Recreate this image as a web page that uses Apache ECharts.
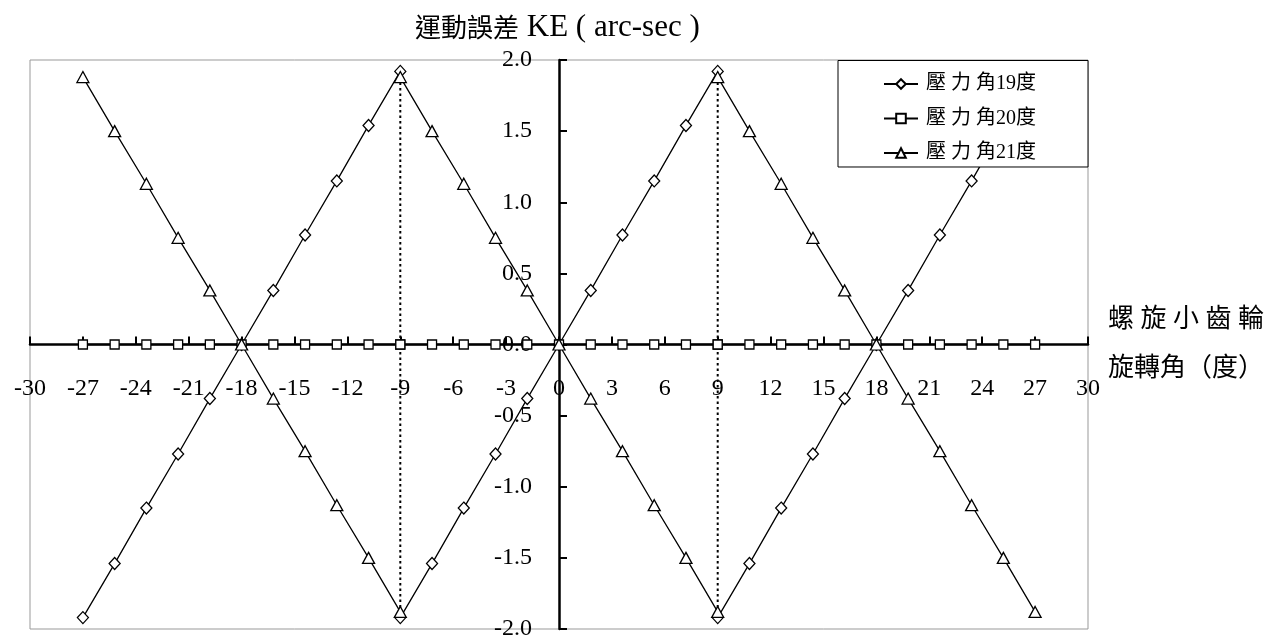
<!DOCTYPE html>
<html>
<head>
<meta charset="utf-8">
<script src="https://cdn.jsdelivr.net/npm/echarts@6/dist/echarts.min.js"></script>
<style>
  html, body { margin: 0; padding: 0; background: #fff; }
  #chart { width: 1282px; height: 641px; }
</style>
</head>
<body>
<div id="chart"></div>
<script>
// Pinion rotation angle (deg); ±9 appear twice where the error jumps
const angles = [-27, -25.2, -23.4, -21.6, -19.8, -18, -16.2, -14.4, -12.6, -10.8, -9,
                -9, -7.2, -5.4, -3.6, -1.8, 0, 1.8, 3.6, 5.4, 7.2, 9,
                9, 10.8, 12.6, 14.4, 16.2, 18, 19.8, 21.6, 23.4, 25.2, 27];

// Kinematic error (arc-sec) per pressure angle
const ke19 = [-1.92, -1.54, -1.15, -0.77, -0.38, 0, 0.38, 0.77, 1.15, 1.54, 1.92,
              -1.92, -1.54, -1.15, -0.77, -0.38, 0, 0.38, 0.77, 1.15, 1.54, 1.92,
              -1.92, -1.54, -1.15, -0.77, -0.38, 0, 0.38, 0.77, 1.15, 1.54, 1.92];
const ke20 = [0, 0, 0, 0, 0, 0, 0, 0, 0, 0, 0,
              0, 0, 0, 0, 0, 0, 0, 0, 0, 0, 0,
              0, 0, 0, 0, 0, 0, 0, 0, 0, 0, 0];
const ke21 = [1.88, 1.50, 1.13, 0.75, 0.38, 0, -0.38, -0.75, -1.13, -1.50, -1.88,
              1.88, 1.50, 1.13, 0.75, 0.38, 0, -0.38, -0.75, -1.13, -1.50, -1.88,
              1.88, 1.50, 1.13, 0.75, 0.38, 0, -0.38, -0.75, -1.13, -1.50, -1.88];

// Jump positions, drawn as dotted verticals
const jumpAngles = [-9, 9];
const jumpTop = 1.92;
const jumpBottom = -1.92;

const seriesNames = ['壓 力 角19度', '壓 力 角20度', '壓 力 角21度'];
const xTitle = '螺 旋 小 齒 輪\n旋轉角（度）';
const yTitleCjk = '運動誤差';
const yTitleLatin = ' KE ( arc-sec )';

// Axis ranges
const xMin = -30, xMax = 30, xStep = 3;
const yMin = -2, yMax = 2, yStep = 0.5;

// Pair angles with values; break the line where the same angle repeats
function toPoints(values) {
  const pts = [];
  for (let i = 0; i < angles.length; i++) {
    if (i > 0 && angles[i] === angles[i - 1]) pts.push(['-', '-']);
    pts.push([angles[i], values[i]]);
  }
  return pts;
}

const serif = "'Liberation Serif', 'Times New Roman', 'Noto Sans CJK TC', serif";
const ink = '#000';

// Plot box in pixels
const gridLeft = 30, gridRight = 194, gridTop = 60, gridBottom = 12;
const W = 1282, H = 641;
const plotW = W - gridLeft - gridRight;
const plotH = H - gridTop - gridBottom;
// Shift the axes so they cross at the origin
const xAxisOffset = -plotH * (0 - yMin) / (yMax - yMin);
const yAxisOffset = -plotW * (0 - xMin) / (xMax - xMin);

function markSeries(name, values, symbol, size) {
  return {
    name: name,
    type: 'line',
    data: toPoints(values),
    symbol: symbol,
    symbolSize: size,
    showAllSymbol: true,
    connectNulls: false,
    lineStyle: { color: ink, width: 1.3 },
    itemStyle: { color: '#fff', borderColor: ink, borderWidth: 1.3 },
    emphasis: { disabled: true },
    animation: false
  };
}

const jumpSeries = jumpAngles.map(a => ({
  type: 'line',
  data: [[a, jumpTop], [a, jumpBottom]],
  symbol: 'none',
  lineStyle: { color: ink, width: 2, type: [2.5, 3] },
  silent: true,
  animation: false,
  z: 1
}));

const chart = echarts.init(document.getElementById('chart'), null, { renderer: 'canvas' });
chart.setOption({
  backgroundColor: '#fff',
  animation: false,
  title: {
    text: '{c|' + yTitleCjk + '}{l|' + yTitleLatin + '}',
    left: 410,
    top: 7,
    textStyle: {
      fontWeight: 'normal',
      rich: {
        c: { fontFamily: serif, fontSize: 26, fontWeight: 'normal', color: ink, verticalAlign: 'bottom' },
        l: { fontFamily: serif, fontSize: 31, fontWeight: 'normal', color: ink, verticalAlign: 'bottom' }
      }
    }
  },
  grid: {
    left: gridLeft, right: gridRight, top: gridTop, bottom: gridBottom,
    show: true, borderColor: '#999', borderWidth: 1,
    outerBoundsMode: 'none'
  },
  legend: {
    orient: 'vertical',
    left: 838,
    top: 60.5,
    padding: [13.5, 52, 4, 45],
    itemWidth: 34,
    itemHeight: 12,
    itemGap: 14.5,
    selectedMode: false,
    backgroundColor: '#fff',
    borderColor: ink,
    borderWidth: 1,
    borderRadius: 0,
    z: 10,
    textStyle: { fontFamily: serif, fontSize: 20, color: ink, padding: [0, 0, 0, 3] },
    data: seriesNames
  },
  xAxis: {
    type: 'value',
    min: xMin, max: xMax, interval: xStep,
    position: 'bottom',
    offset: xAxisOffset,
    name: xTitle,
    nameLocation: 'end',
    nameGap: 20,
    nameTextStyle: {
      fontFamily: serif, fontSize: 26, color: ink, lineHeight: 49,
      align: 'left', verticalAlign: 'middle', padding: [0, 0, 12, 0]
    },
    axisLine: { onZero: false, lineStyle: { color: ink, width: 2.5 } },
    axisTick: { inside: true, length: 8, lineStyle: { color: ink, width: 2 } },
    axisLabel: { margin: 32, fontFamily: serif, fontSize: 24, color: ink },
    splitLine: { show: false }
  },
  yAxis: {
    type: 'value',
    min: yMin, max: yMax, interval: yStep,
    position: 'left',
    offset: yAxisOffset,
    axisLine: { onZero: false, lineStyle: { color: ink, width: 2.5 } },
    axisTick: { inside: true, length: 8, lineStyle: { color: ink, width: 2 } },
    axisLabel: {
      margin: 27, fontFamily: serif, fontSize: 24, color: ink,
      formatter: v => v.toFixed(1)
    },
    splitLine: { show: false }
  },
  series: [
    ...jumpSeries,
    markSeries(seriesNames[0], ke19, 'diamond', [11, 12]),
    markSeries(seriesNames[1], ke20, 'rect', 9),
    markSeries(seriesNames[2], ke21, 'triangle', [12, 11])
  ]
});
</script>
</body>
</html>
